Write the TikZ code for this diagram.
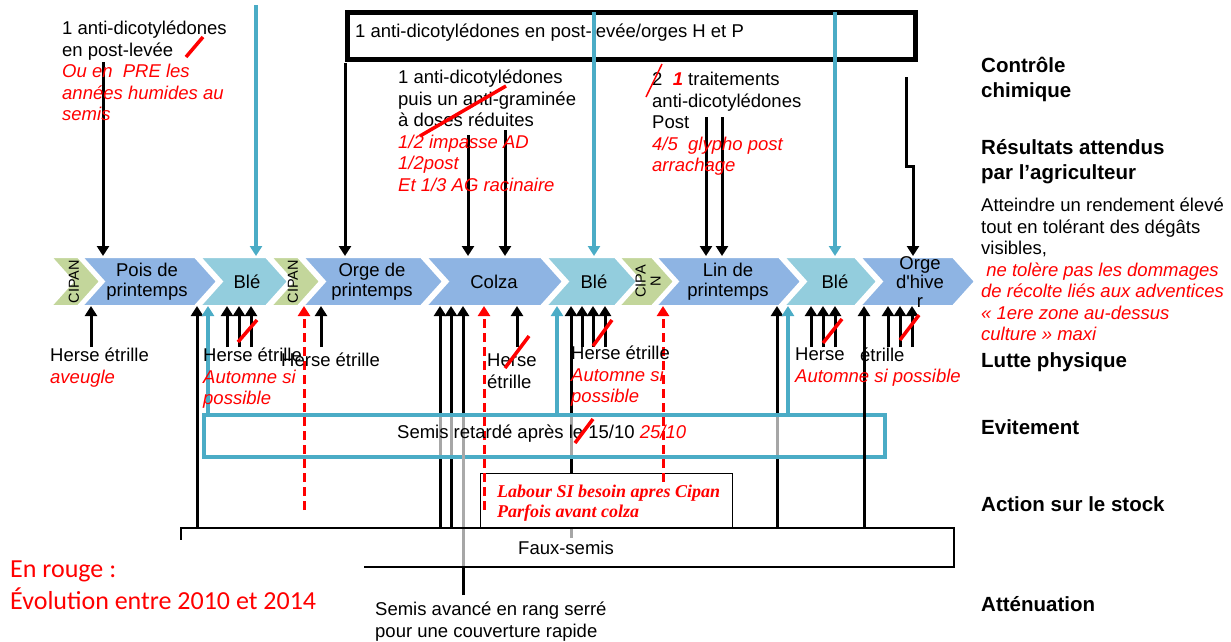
\documentclass[tikz,border=0pt]{standalone}
\usepackage{fontspec}
\setmainfont{Liberation Sans}
\newfontfamily\lserif{Liberation Serif}
\newfontfamily\carlito{Carlito}
\usetikzlibrary{arrows.meta}
\definecolor{cblue}{RGB}{142,180,227}
\definecolor{clight}{RGB}{147,205,221}
\definecolor{cgreen}{RGB}{195,214,155}
\definecolor{ccyan}{RGB}{75,172,198}
\definecolor{lgray}{RGB}{170,170,170}
\newcommand\rd[1]{{\color{red}\itshape #1}}
\newcommand\chev[3]{\fill[#3, draw=white, line width=2pt] (#1,257) -- (#2,257) -- ({#2+22},281.5) -- (#2,306) -- (#1,306) -- ({#1+22},281.5) -- cycle;}
\newcommand\dnarr[2]{\draw[arr] (#1,#2) -- (#1,0 |- bandT);}
\newcommand\upa[2]{\draw[arr] (#1,#2) -- (#1,0 |- bandB);}
\newcommand\cyup[2]{\draw[cyarr] (#1,#2) -- (#1,0 |- bandB);}
\newcommand\strk[4]{\draw[strike] (#1,#2) -- (#3,#4);}
\tikzset{
  tx/.style={inner sep=0pt, align=left, font=\fontsize{18.5}{21.5}\selectfont},
  lbl/.style={inner sep=0pt, align=left, font=\fontsize{20.5}{25}\selectfont\bfseries},
  ctx/.style={inner sep=0pt, align=center, font=\fontsize{18.5}{20}\selectfont},
  cip/.style={inner sep=0pt, align=center, rotate=90, font=\fontsize{14.5}{15}\selectfont},
  arr/.style={line width=3pt, -{Triangle[width=12pt,length=10pt]}},
  cyarr/.style={arr, draw=ccyan, line width=3.3pt},
  rdash/.style={arr, draw=red, dash pattern=on 9pt off 5pt},
  strike/.style={draw=red, line width=3.5pt},
}
\begin{document}
\begin{tikzpicture}[x=1pt,y=-1pt]
\useasboundingbox (0,0) rectangle (1231,641);
\path (0,256) coordinate (bandT) (0,306) coordinate (bandB);

% chevrons
\chev{51}{78}{cgreen}
\chev{82}{195}{cblue}
\chev{200}{266}{clight}
\chev{271}{298}{cgreen}
\chev{303}{421}{cblue}
\chev{426}{541}{cblue}
\chev{546}{615}{clight}
\chev{619}{652}{cgreen}
\chev{656}{779}{cblue}
\chev{784}{855}{clight}
\chev{860}{953}{cblue}
\node[cip] (cip1) at (74,281.5) {CIPAN};
\node[ctx] (pois) at (147,281.5) {Pois de\\printemps};
\node[ctx] (ble1) at (247,281.5) {Blé};
\node[cip] (cip2) at (293,281.5) {CIPAN};
\node[ctx] (orgep) at (372,281.5) {Orge de\\printemps};
\node[ctx] (colza) at (494,281.5) {Colza};
\node[ctx] (ble2) at (594,281.5) {Blé};
\node[cip] (cip3) at (648,281.5) {CIPA\\N};
\node[ctx] (lin) at (728,281.5) {Lin de\\printemps};
\node[ctx] (ble3) at (835,281.5) {Blé};
\node[ctx, font=\fontsize{18.5}{19}\selectfont] (orgeh) at (920,282) {Orge\\d\textquotesingle hive\\r};

% top box
\node[draw, line width=4.5pt, inner sep=0pt, minimum width=568pt, minimum height=47pt, anchor=north west] (topbox) at (345,10) {};
\node[tx, anchor=west] (boxtxt) at (355,33) {1 anti-dicotylédones en post-levée/orges H et P};

% top arrows
\dnarr{103}{62}
\draw[cyarr] (256,5) -- (256,0 |- bandT);
\dnarr{345}{63}
\dnarr{468}{135}
\dnarr{505}{130}
\draw[cyarr] (594,12) -- (594,0 |- bandT);
\dnarr{706}{117}
\dnarr{722}{117}
\draw[cyarr] (835,12) -- (835,0 |- bandT);
\draw[arr] (906,77) -- (906,166) -- (913,166) -- (913,0 |- bandT);

% top texts
\node[tx, anchor=north west] (tA) at (62,21) {1 anti-dicotylédones\\en post-levée\\\rd{Ou en\ \ PRE les}\\\rd{années humides au}\\\rd{semis}};
\node[tx, anchor=north west] (tB) at (398,70) {1 anti-dicotylédones\\puis un anti-graminée\\à doses réduites\\\rd{1/2 impasse AD}\\\rd{1/2post}\\\rd{Et 1/3 AG racinaire}};
\node[tx, anchor=north west] (tC) at (652,72) {2\ \ {\color{red}\bfseries\itshape 1} traitements\\anti-dicotylédones\\Post\\\rd{4/5\ \ glypho post}\\\rd{arrachage}};
\strk{186}{57}{203}{37}
\draw[strike, line width=3.5pt] (420,136) -- (506,86);
\draw[draw=red, line width=1.5pt] (646,97) -- (662,64);

% right labels
\node[lbl, anchor=north west] (lc) at (981,57) {Contrôle\\chimique};
\node[lbl, anchor=north west] (lr) at (981,139) {Résultats attendus\\par l’agriculteur};
\node[tx, anchor=north west] (la) at (981,198) {Atteindre un rendement élevé\\tout en tolérant des dégâts\\visibles,\\\rd{\ ne tolère pas les dommages}\\\rd{de récolte liés aux adventices}\\\rd{« 1ere zone au-dessus}\\\rd{culture » maxi}};
\node[lbl, anchor=west] (lp) at (981,362) {Lutte physique};
\node[lbl, anchor=west] (le) at (981,427) {Evitement};
\node[lbl, anchor=west] (ls) at (981,504) {Action sur le stock};
\node[lbl, anchor=west] (lat) at (981,604) {Atténuation};

% bottom lines
\upa{91}{347}
\upa{197}{527}
\upa{227}{347}\upa{239}{347}\upa{251}{347}
\upa{321}{347}
\upa{440}{527}\upa{451}{527}\upa{463}{595}
\upa{517}{347}
\upa{571}{538}\upa{582}{347}\upa{593}{347}\upa{605}{347}
\upa{777}{527}
\upa{811}{347}\upa{823}{347}\upa{835}{347}
\upa{888}{347}\upa{900}{347}\upa{912}{347}
\cyup{208}{413}\cyup{557}{413}\cyup{788}{413}

% boxes
\node[draw=ccyan, line width=3.8pt, fill=white, fill opacity=0.65, inner sep=0pt, minimum width=681pt, minimum height=42pt, anchor=north west] (cbox) at (202,413) {};
\node[draw, line width=1.6pt, fill=white, fill opacity=0.65, inner sep=0pt, minimum width=773pt, minimum height=39pt, anchor=north west] (faux) at (180,527) {};
\node[draw, line width=1.4pt, fill=white, inner sep=0pt, minimum width=252pt, minimum height=54pt, anchor=north west] (labour) at (480,473) {};
\upa{864}{527}
\draw[lgray, line width=3pt] (463,455) -- (463,527);

% dashed
\draw[rdash] (304,510) -- (304,0 |- bandB);
\draw[rdash] (484,510) -- (484,0 |- bandB);
\draw[rdash] (663,482) -- (663,0 |- bandB);

% bottom texts
\node[tx, anchor=north west] (h1) at (50,348) {Herse étrille\\\rd{aveugle}};
\node[tx, anchor=north west] (h2) at (203,348) {Herse étrille\\\rd{Automne si}\\\rd{possible}};
\node[tx, anchor=north west] (h3) at (281,353) {Herse étrille};
\node[tx, anchor=north west] (h4) at (487,354) {Herse\\étrille};
\node[tx, anchor=north west] (h5) at (571,346) {Herse étrille\\\rd{Automne si}\\\rd{possible}};
\node[tx, anchor=north west] (h6) at (795,348) {Herse\\\rd{Automne si possible}};
\node[tx, anchor=north west] (h7) at (860,348) {étrille};
\strk{238}{342}{257}{320}
\strk{505}{368}{529}{336}
\strk{593}{346}{612}{320}
\strk{823}{343}{842}{319}
\strk{900}{340}{919}{315}

\node[tx, anchor=west] (semtxt) at (397,434) {Semis retardé après le 15/10 \rd{25/10}};
\strk{575}{443}{593}{419}
\node[tx] (fauxtxt) at (566,548) {Faux-semis};
\node[anchor=north west, inner sep=0pt, align=left, text=red, font=\lserif\bfseries\itshape\fontsize{18}{19.5}\selectfont] (labtxt) at (497,485) {Labour SI besoin apres Cipan\\Parfois avant colza};
\node[tx, anchor=north west] (avance) at (375,602) {Semis avancé en rang serré\\pour une couverture rapide};

% legend
\fill[white] (0,540) rectangle (364,641);
\node[anchor=north west, inner sep=0pt, align=left, text=red, font=\carlito\fontsize{26}{32}\selectfont] (legend) at (10,561) {En rouge :\\Évolution entre 2010 et 2014};
\end{tikzpicture}
\end{document}
